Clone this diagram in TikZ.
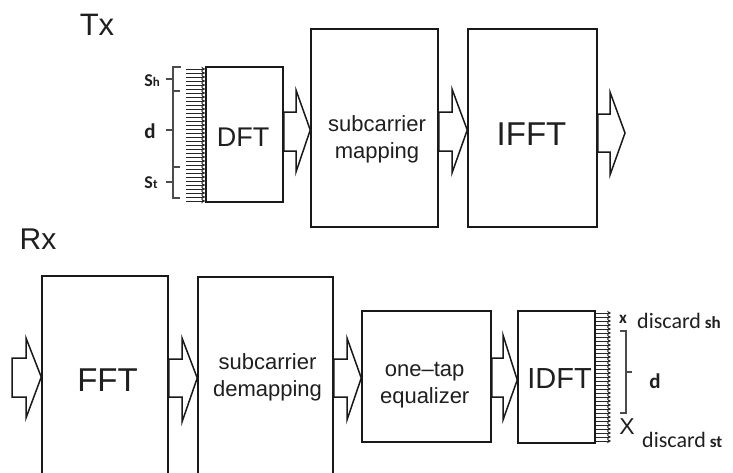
\documentclass[tikz,border=0pt]{standalone}
\usepackage{fontspec}
\setmainfont{Liberation Sans}
\newfontfamily\calfont{Carlito}
\usetikzlibrary{arrows.meta}
\tikzset{
 box/.style={draw=black!90, line width=1.5pt, fill=white, inner sep=0pt},
 blkstyle/.style={draw=black!90, line width=1.5pt, fill=white, line join=miter},
 comb/.style={line width=0.9pt, black!85, -{Stealth[length=4pt,width=4.5pt]}},
 brk/.style={line width=1.1pt, black!70},
 txt/.style={inner sep=0pt, text=black!88, align=center},
}
\newcommand\blk[8]{\draw[blkstyle] (#1 |- 0,#3) -- (#7,#3) -- (#7,#5) -- (#2 |- 0,#8) -- (#7,#6) -- (#7,#4) -- (#1 |- 0,#4) -- cycle;}
\begin{document}
\begin{tikzpicture}[x=1pt,y=-1pt]
\useasboundingbox (0,0) rectangle (733,472);
\clip (0,0) rectangle (733,472);
% titles
\node[txt, font=\fontsize{31}{31}\selectfont] (tx) at (97,25) {Tx};
\node[txt, font=\fontsize{30}{30}\selectfont] (rx) at (38,239) {Rx};
% boxes
\node[box, minimum width=77pt, minimum height=135pt] (dft) at (244.5,134.5) {};
\node[box, minimum width=127pt, minimum height=198pt] (map) at (374.5,128) {};
\node[box, minimum width=129pt, minimum height=198pt] (ifft) at (532.5,128) {};
\node[box, minimum width=126pt, minimum height=204pt] (fft) at (105,378) {};
\node[box, minimum width=135pt, minimum height=203pt] (demap) at (265.5,378.5) {};
\node[box, minimum width=129pt, minimum height=131pt] (eq) at (426.5,376.5) {};
\node[box, minimum width=77pt, minimum height=132pt] (idft) at (556.5,377) {};
% box texts
\node[txt, font=\fontsize{27}{27}\selectfont] (dftt) at (243,137) {DFT};
\node[txt, font=\fontsize{22}{27}\selectfont] (mapt) at (377,139) {subcarrier\\mapping};
\node[txt, font=\fontsize{33}{33}\selectfont] (ifftt) at (531.5,134.5) {IFFT};
\node[txt, font=\fontsize{33}{33}\selectfont] (fftt) at (107.5,380.5) {FFT};
\node[txt, font=\fontsize{22}{27}\selectfont] (demapt) at (267.5,377.5) {subcarrier\\demapping};
\node[txt, font=\fontsize{22}{27}\selectfont] (eqt) at (424.7,385) {one–tap\\equalizer};
\node[txt, font=\fontsize{29}{29}\selectfont] (idftt) at (559.5,379) {IDFT};
% block arrows
\blk{dft.east}{map.west}{112}{151}{90}{172}{296}{130}
\blk{map.east}{ifft.west}{112}{151}{89}{173}{452}{130}
\coordinate (tout) at (625,133);
\blk{ifft.east}{tout}{114}{152}{92}{175}{610}{133}
\coordinate (rin) at (12,377);
\blk{rin}{fft.west}{358}{397}{338}{418}{26}{377}
\blk{fft.east}{demap.west}{359}{397}{338}{422}{182}{378}
\blk{demap.east}{eq.west}{359}{397}{338}{420}{347}{378}
\blk{eq.east}{idft.west}{358}{397}{335}{420}{503}{380}
% combs
\foreach \y in {69,73,...,201} \draw[comb] (186,\y) -- (dft.west |- 0,\y);
\foreach \y in {313,317,...,441} \draw[comb] (idft.east |- 0,\y) -- (611,\y);
% Tx brackets
\draw[brk] (181,67) -- (173,67) -- (173,198) -- (180,198);
\draw[brk] (173,91) -- (180,91);
\draw[brk] (173,167) -- (180,167);
\draw[brk] (173,79) -- (166,79);
\draw[brk] (173,130) -- (166,130);
\draw[brk] (173,182) -- (166,182);
\node[txt, font=\calfont\bfseries\fontsize{18}{18}\selectfont] (shl) at (152,81) {S{\fontsize{13}{13}\selectfont h}};
\node[txt, font=\calfont\bfseries\fontsize{21}{21}\selectfont] (dl) at (150,131) {d};
\node[txt, font=\calfont\bfseries\fontsize{18}{18}\selectfont] (stl) at (151,183) {S{\fontsize{13}{13}\selectfont t}};
% Rx bracket and labels
\draw[brk] (620,331) -- (626,331) -- (626,413) -- (620,413);
\draw[brk] (626,372) -- (632,372);
\node[txt, font=\calfont\bfseries\fontsize{21}{21}\selectfont] (dr) at (655,381) {d};
\node[txt, font=\calfont\bfseries\fontsize{17}{17}\selectfont] (x1) at (623,319) {x};
\node[txt, font=\fontsize{23}{23}\selectfont] (x2) at (627,427) {X};
\node[txt, anchor=base west, font=\calfont\fontsize{22}{22}\selectfont] (d1) at (637,328) {discard{\bfseries\fontsize{17}{17}\selectfont\ sh}};
\node[txt, anchor=base west, font=\calfont\fontsize{22}{22}\selectfont] (d2) at (642,447) {discard{\bfseries\fontsize{17}{17}\selectfont\ st}};
\end{tikzpicture}
\end{document}
